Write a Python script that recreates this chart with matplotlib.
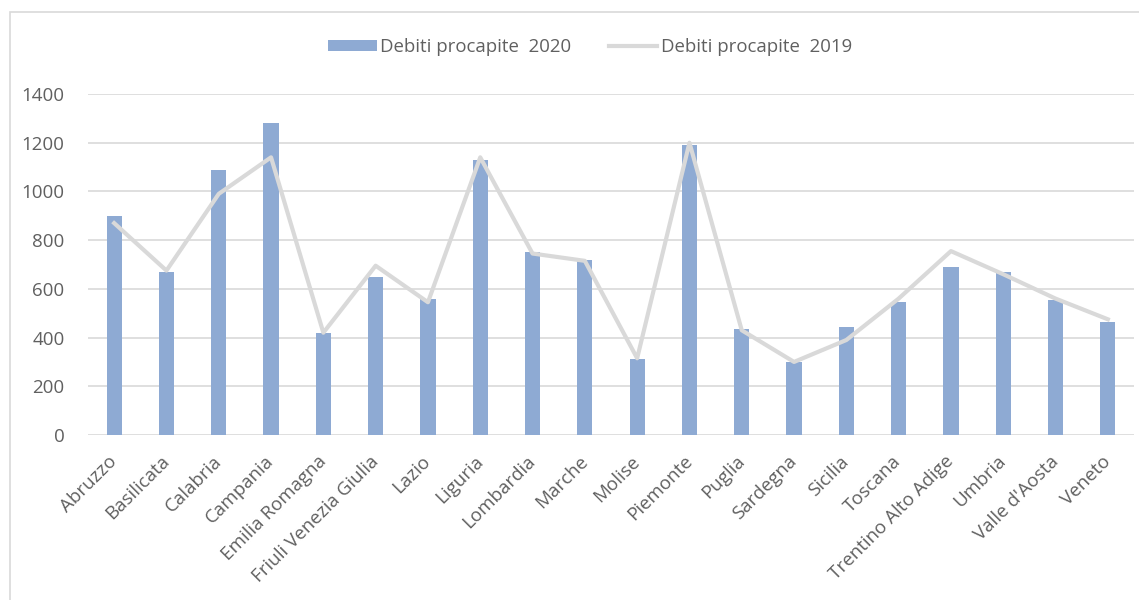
import matplotlib.pyplot as plt
from matplotlib.patches import Rectangle
import numpy as np

regioni = ['Abruzzo', 'Basilicata', 'Calabria', 'Campania', 'Emilia Romagna',
           'Friuli Venezia Giulia', 'Lazio', 'Liguria', 'Lombardia', 'Marche',
           'Molise', 'Piemonte', 'Puglia', 'Sardegna', 'Sicilia', 'Toscana',
           'Trentino Alto Adige', 'Umbria', "Valle d'Aosta", 'Veneto']
debiti_2020 = [900, 670, 1090, 1280, 420, 650, 560, 1130, 750, 720,
               310, 1190, 435, 300, 445, 545, 690, 670, 555, 465]
debiti_2019 = [870, 675, 990, 1140, 420, 695, 545, 1140, 745, 715,
               315, 1200, 430, 300, 390, 560, 755, 660, 560, 475]
yticks = [0, 200, 400, 600, 800, 1000, 1200, 1400]

plt.rcParams['font.family'] = ['Open Sans', 'DejaVu Sans']
txt = '#606060'

fig = plt.figure(figsize=(11.39, 6.0), dpi=100)
# chart frame
fig.patches.append(Rectangle((10 / 1139, -0.1), 1.2, (600 - 12) / 600 + 0.1,
                             transform=fig.transFigure, fill=False,
                             edgecolor='#d9d9d9', linewidth=1.2))

ax = fig.add_axes([88 / 1139, 165 / 600, 1046 / 1139, 341 / 600])
x = np.arange(len(regioni))
bars = ax.bar(x, debiti_2020, width=0.29, color='#8eaad3', zorder=2,
              label='Debiti procapite  2020')
line, = ax.plot(x, debiti_2019, color='#d9d9d9', linewidth=3, zorder=3,
                label='Debiti procapite  2019')

ax.set_xlim(-0.5, len(regioni) - 0.5)
ax.set_ylim(0, 1400)
ax.set_yticks(yticks)
ax.yaxis.grid(True, color='#d9d9d9', linewidth=1.2, zorder=0)
for s in ax.spines.values():
    s.set_visible(False)
ax.tick_params(axis='both', length=0, colors=txt)
ax.tick_params(axis='y', pad=17, labelsize=13.5)
ax.set_xticks(x)
ax.set_xticklabels(regioni, rotation=45, ha='right', va='center',
                   rotation_mode='anchor', fontsize=13.5)
ax.tick_params(axis='x', pad=17)

ax.legend(handles=[bars, line], loc='center',
          bbox_to_anchor=(0.48, 1.0 + 47 / 341), ncol=2,
          frameon=False, fontsize=13.4, labelcolor=txt, handlelength=2.6,
          handleheight=0.55, handletextpad=0.2, columnspacing=2.0)

fig.savefig('out.png', dpi=100)
